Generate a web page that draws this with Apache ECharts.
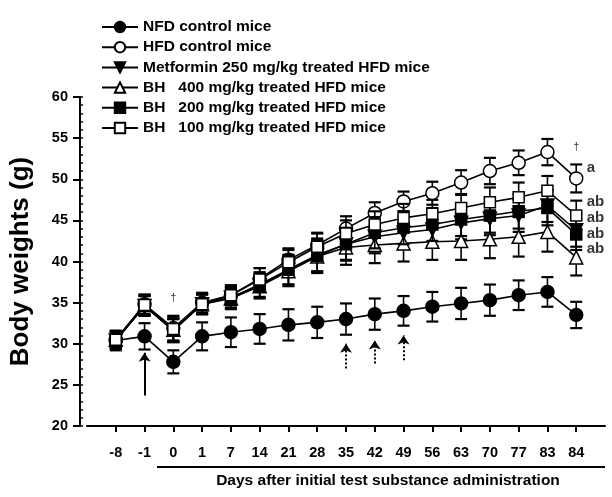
<!DOCTYPE html>
<html>
<head>
<meta charset="utf-8">
<script src="https://cdn.jsdelivr.net/npm/echarts@6/dist/echarts.min.js"></script>
<style>html,body{margin:0;padding:0;background:#fff;}#c{width:612px;height:497px;}</style>
</head>
<body>
<div id="c"></div>
<script>
const days = ['-8','-1','0','1','7','14','21','28','35','42','49','56','63','70','77','83','84'];
const yTicks = [20, 25, 30, 35, 40, 45, 50, 55, 60];

const groupNames = ['NFD control mice', 'HFD control mice', 'Metformin 250 mg/kg treated HFD mice',
  'BH   400 mg/kg treated HFD mice', 'BH   200 mg/kg treated HFD mice', 'BH   100 mg/kg treated HFD mice'];

const nfdMean = [30.4, 30.9, 27.8, 30.9, 31.4, 31.8, 32.3, 32.6, 33.0, 33.6, 34.0, 34.5, 34.9, 35.3, 35.9, 36.3, 33.5];
const nfdErr  = [1.2, 1.6, 1.4, 1.7, 1.8, 1.8, 1.9, 1.9, 1.9, 1.9, 1.8, 1.8, 1.9, 1.9, 1.8, 1.8, 1.6];
const hfdMean = [30.5, 34.8, 31.9, 35.0, 35.9, 37.9, 40.2, 42.0, 44.0, 45.9, 47.3, 48.3, 49.6, 51.0, 52.0, 53.3, 50.1];
const hfdErr  = [1.0, 1.2, 1.5, 1.2, 1.2, 1.3, 1.4, 1.5, 1.5, 1.3, 1.2, 1.4, 1.5, 1.6, 1.5, 1.6, 1.7];
const metMean = [30.4, 34.6, 31.6, 34.8, 35.6, 37.1, 39.0, 40.8, 42.1, 43.0, 43.5, 43.9, 44.7, 45.2, 45.6, 46.8, 43.8];
const metErr  = [1.0, 1.2, 1.4, 1.2, 1.2, 1.5, 1.8, 2.0, 2.0, 2.0, 2.0, 2.0, 2.0, 2.0, 2.0, 2.0, 2.0];
const bh400Mean = [30.5, 34.7, 31.7, 34.8, 35.5, 37.0, 38.8, 40.6, 41.7, 42.0, 42.2, 42.4, 42.5, 42.7, 43.0, 43.6, 40.5];
const bh400Err  = [1.0, 1.2, 1.4, 1.2, 1.3, 1.5, 1.8, 2.0, 2.1, 2.2, 2.2, 2.2, 2.3, 2.3, 2.4, 2.4, 2.2];
const bh200Mean = [30.4, 34.6, 31.6, 34.9, 35.6, 37.2, 39.0, 40.7, 42.1, 43.5, 44.1, 44.5, 45.1, 45.6, 46.1, 46.5, 43.3];
const bh200Err  = [1.0, 1.2, 1.4, 1.2, 1.3, 1.5, 1.8, 1.9, 1.9, 1.9, 2.0, 2.0, 2.0, 2.1, 2.1, 2.1, 1.9];
const bh100Mean = [30.5, 34.7, 31.8, 34.8, 35.9, 37.8, 39.9, 41.8, 43.4, 44.5, 45.3, 45.8, 46.5, 47.2, 47.8, 48.6, 45.6];
const bh100Err  = [1.0, 1.2, 1.5, 1.2, 1.2, 1.4, 1.5, 1.6, 1.6, 1.6, 1.7, 1.7, 1.7, 1.8, 1.8, 1.8, 1.8];

// significance letters next to day 84 and daggers
const letterTexts = ['a', 'ab', 'ab', 'ab', 'ab'];
const letterY = [51.4, 47.2, 45.3, 43.4, 41.5];
const daggerDays = ['0', '84'];
const daggerY = [35.6, 53.9];
// arrows: [day, from, to]
const solidArrows = [['-1', 23.7, 28.9]];
const dottedArrows = [['35', 27.0, 30.0], ['42', 27.6, 30.4], ['49', 28.0, 31.0]];

const FONT = '"Liberation Sans", Arial, Helvetica, sans-serif';

const groups = [
  {mean: nfdMean, err: nfdErr, symbol: 'circle', size: 13, fill: '#000', rot: 0},
  {mean: hfdMean, err: hfdErr, symbol: 'circle', size: 13, fill: '#fff', rot: 0},
  {mean: metMean, err: metErr, symbol: 'triangle', size: 13, fill: '#000', rot: 180},
  {mean: bh400Mean, err: bh400Err, symbol: 'triangle', size: 13, fill: '#fff', rot: 0},
  {mean: bh200Mean, err: bh200Err, symbol: 'rect', size: 11, fill: '#000', rot: 0},
  {mean: bh100Mean, err: bh100Err, symbol: 'rect', size: 11, fill: '#fff', rot: 0}
];

function errRender(params, api) {
  const x = api.value(0), m = api.value(1), e = api.value(2);
  const t = api.coord([x, m + e]);
  const b = api.coord([x, m - e]);
  const hw = 6;
  const st = {stroke: '#000', lineWidth: 1.6};
  const cap = {stroke: '#000', lineWidth: 2.2};
  return {type: 'group', children: [
    {type: 'line', shape: {x1: t[0], y1: t[1], x2: b[0], y2: b[1]}, style: st},
    {type: 'line', shape: {x1: t[0] - hw, y1: t[1], x2: t[0] + hw, y2: t[1]}, style: cap},
    {type: 'line', shape: {x1: b[0] - hw, y1: b[1], x2: b[0] + hw, y2: b[1]}, style: cap}
  ]};
}

const series = [];
groups.forEach((g, k) => {
  series.push({
    name: 'err' + k, type: 'custom', renderItem: errRender, z: 2 + k * 2,
    encode: {x: 0, y: 1},
    data: days.map((d, i) => [d, g.mean[i], g.err[i]]),
    silent: true
  });
});
groups.forEach((g, k) => {
  series.push({
    name: groupNames[k], type: 'line', z: 3 + k * 2,
    data: days.map((d, i) => [d, g.mean[i]]),
    symbol: g.symbol, symbolSize: g.size, symbolRotate: g.rot, showSymbol: true,
    itemStyle: {color: g.fill, borderColor: '#000', borderWidth: 1.5},
    lineStyle: {color: '#000', width: 1.6},
    emphasis: {disabled: true}
  });
});
series.push({
  name: 'annot', type: 'scatter', z: 20, symbolSize: 1,
  itemStyle: {color: 'rgba(0,0,0,0)'},
  data: letterTexts.map((t, i) => ({value: ['84', letterY[i]], name: t}))
    .concat(daggerDays.map((d, i) => ({value: [d, daggerY[i]], name: '\u2020',
      label: {position: 'inside', fontWeight: 'normal', fontSize: 11}}))),
  label: {show: true, position: 'right', distance: 10, formatter: p => p.name,
    fontFamily: FONT, fontWeight: 'bold', fontSize: 15, color: '#000'},
  markLine: {
    silent: true, animation: false,
    symbol: ['none', 'arrow'], symbolSize: 9,
    label: {show: false},
    data: solidArrows.map(a => [{coord: [a[0], a[1]], lineStyle: {type: 'solid', width: 2, color: '#000'}}, {coord: [a[0], a[2]]}])
      .concat(dottedArrows.map(a => [{coord: [a[0], a[1]], lineStyle: {type: 'dotted', width: 2, color: '#000'}}, {coord: [a[0], a[2]]}]))
  }
});

const chart = echarts.init(document.getElementById('c'), null, {renderer: 'canvas'});
chart.setOption({
  animation: false,
  backgroundColor: '#fff',
  grid: {left: 83, right: 7, top: 97, bottom: 71, containLabel: false},
  legend: {
    data: groupNames, orient: 'vertical', left: 96, top: 14,
    itemWidth: 36, itemHeight: 13, itemGap: 4.2,
    textStyle: {fontFamily: FONT, fontWeight: 'bold', fontSize: 15.5, color: '#000'},
    selectedMode: false
  },
  xAxis: {
    type: 'category', data: [''].concat(days, ['']), boundaryGap: false,
    axisLine: {lineStyle: {color: '#000', width: 2}},
    axisTick: {length: 6, lineStyle: {color: '#000', width: 2}, interval: (i, v) => v !== ''},
    axisLabel: {interval: 0, margin: 19, fontFamily: FONT, fontWeight: 'bold', fontSize: 14.5, color: '#000'},
    splitLine: {show: false},
    name: 'Days after initial test substance administration',
    nameLocation: 'middle', nameGap: 47,
    nameTextStyle: {fontFamily: FONT, fontWeight: 'bold', fontSize: 15.5, color: '#000', padding: [0, 0, 0, 84]}
  },
  yAxis: [{
    type: 'value', min: yTicks[0], max: yTicks[yTicks.length - 1], interval: 5, offset: 7,
    axisLine: {show: true, lineStyle: {color: '#000', width: 2}},
    axisTick: {show: true, length: 7, lineStyle: {color: '#000', width: 2}},
    axisLabel: {margin: 12, fontFamily: FONT, fontWeight: 'bold', fontSize: 14.5, color: '#000'},
    splitLine: {show: false},
    name: 'Body weights (g)', nameLocation: 'middle', nameGap: 46,
    nameTextStyle: {fontFamily: FONT, fontWeight: 'bold', fontSize: 26, color: '#000'}
  }, {
    type: 'value', min: yTicks[0], max: yTicks[yTicks.length - 1], interval: 1, offset: 7, position: 'left',
    axisLine: {show: false},
    axisTick: {show: true, inside: true, length: 3, lineStyle: {color: '#000', width: 1.5}},
    axisLabel: {show: false}, splitLine: {show: false}
  }],
  graphic: [{
    type: 'line', shape: {x1: 157, y1: 467, x2: 605, y2: 467},
    style: {stroke: '#000', lineWidth: 1.8}, silent: true
  }],
  series: series
});
</script>
</body>
</html>
